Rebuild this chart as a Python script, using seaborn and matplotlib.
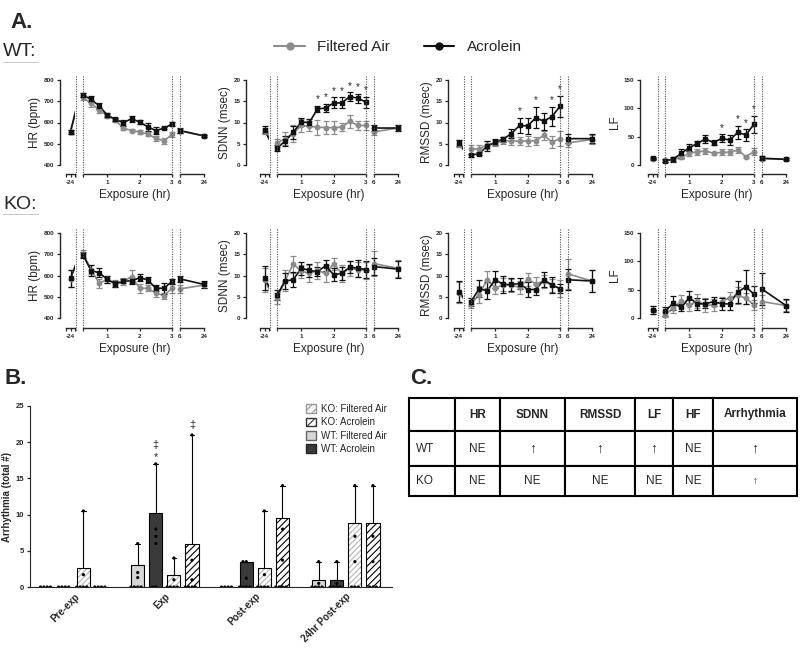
import numpy as np
import pandas as pd
import matplotlib
matplotlib.use('Agg')
import matplotlib.pyplot as plt
from matplotlib.lines import Line2D
from matplotlib.patches import Patch, Rectangle
import seaborn as sns

sns.set_style('ticks')
plt.rcParams['font.family'] = ['Liberation Sans', 'DejaVu Sans']
plt.rcParams['hatch.linewidth'] = 0.8

W, H = 800, 649

# ---------------- panel A data (mean, SEM) ----------------
times = [-24, 0.25, 0.5, 0.75, 1.0, 1.25, 1.5, 1.75, 2.0, 2.25, 2.5, 2.75, 3.0, 6, 24]

hr_wt_ac = [557, 729, 709, 678, 635, 615, 599, 618, 602, 580, 562, 573, 593, 562, 537]
hr_wt_ac_err = [10, 10, 14, 14, 10, 8, 14, 14, 8, 18, 16, 4, 10, 10, 5]
hr_wt_fa = [557, 718, 690, 659, 631, 612, 573, 562, 555, 546, 525, 513, 544, 560, 537]
hr_wt_fa_err = [10, 10, 16, 16, 10, 8, 10, 8, 8, 10, 10, 12, 12, 10, 5]

sdnn_wt_ac = [8.3, 4.0, 5.6, 7.7, 10.1, 10.0, 13.2, 13.4, 14.6, 14.6, 16.1, 15.7, 14.8, 8.7, 8.7]
sdnn_wt_ac_err = [0.8, 0.8, 1.2, 1.5, 1.0, 0.8, 0.8, 1.0, 1.3, 1.3, 1.0, 1.0, 1.3, 0.8, 0.8]
sdnn_wt_fa = [8.0, 5.2, 6.2, 7.4, 9.3, 9.1, 8.9, 8.8, 8.8, 8.9, 10.3, 9.3, 9.3, 7.8, 8.7]
sdnn_wt_fa_err = [0.8, 1.0, 1.5, 2.0, 1.5, 1.2, 1.8, 1.5, 1.5, 1.0, 1.5, 1.0, 1.0, 0.8, 0.8]

rmssd_wt_ac = [5.2, 2.3, 2.7, 4.4, 5.4, 6.1, 7.4, 9.3, 9.2, 11.1, 10.3, 11.4, 13.8, 6.2, 6.2]
rmssd_wt_ac_err = [0.8, 0.3, 0.4, 1.2, 0.8, 0.6, 1.0, 1.8, 1.8, 2.5, 2.0, 2.2, 2.5, 1.0, 1.0]
rmssd_wt_fa = [5.0, 3.7, 3.8, 4.7, 5.2, 5.7, 5.7, 5.6, 5.7, 5.7, 7.0, 5.4, 6.2, 5.2, 6.0]
rmssd_wt_fa_err = [0.8, 1.0, 1.0, 1.0, 0.8, 0.8, 1.0, 1.0, 1.2, 1.0, 1.0, 1.5, 1.8, 1.0, 1.0]

lf_wt_ac = [12, 7.6, 10, 20.6, 30.6, 38, 46, 39.4, 47, 44, 57.6, 53, 72, 12, 10]
lf_wt_ac_err = [2, 3, 4, 8, 6, 5, 7, 4, 7, 9, 12, 10, 15, 4, 2]
lf_wt_fa = [11, 8, 10, 13.5, 20.6, 23.5, 24.7, 20.6, 22.4, 22.4, 26.5, 14.7, 23.5, 11, 10]
lf_wt_fa_err = [2, 2, 3, 3, 4, 5, 6, 3, 5, 5, 6, 2, 6, 3, 2]

hr_ko_ac = [587, 696, 623, 613, 582, 560, 574, 574, 590, 579, 540, 540, 572, 584, 558]
hr_ko_ac_err = [40, 15, 25, 20, 18, 12, 10, 12, 18, 15, 15, 25, 12, 15, 15]
hr_ko_fa = [585, 703, 628, 563, 582, 562, 572, 595, 540, 540, 518, 505, 540, 537, 555]
hr_ko_fa_err = [40, 15, 20, 20, 15, 15, 15, 30, 20, 15, 20, 15, 20, 20, 15]

sdnn_ko_ac = [9.4, 5.4, 8.7, 9.0, 11.7, 11.2, 10.9, 12.3, 10.2, 10.5, 12.0, 11.7, 11.4, 12.1, 11.5]
sdnn_ko_ac_err = [2.8, 1.2, 1.8, 1.8, 1.5, 1.5, 1.0, 1.3, 1.5, 1.5, 1.5, 2.0, 2.0, 2.0, 2.0]
sdnn_ko_fa = [9.0, 4.6, 8.8, 12.7, 11.0, 10.5, 11.2, 10.5, 12.7, 10.5, 11.7, 11.4, 11.2, 12.8, 11.7]
sdnn_ko_fa_err = [2.8, 1.2, 2.5, 2.0, 1.5, 2.0, 2.0, 2.0, 1.5, 2.0, 1.8, 1.8, 2.0, 3.0, 2.0]

rmssd_ko_ac = [6.2, 3.8, 6.9, 6.4, 9.0, 7.9, 7.9, 8.1, 6.7, 6.7, 9.0, 7.8, 6.9, 9.0, 8.7]
rmssd_ko_ac_err = [2.5, 1.0, 2.0, 2.0, 2.0, 2.0, 1.5, 1.3, 1.8, 1.3, 1.8, 1.8, 1.0, 2.5, 2.5]
rmssd_ko_fa = [6.0, 3.3, 5.5, 9.0, 7.1, 7.8, 7.7, 7.2, 9.1, 8.1, 8.6, 7.7, 6.9, 10.4, 8.7]
rmssd_ko_fa_err = [2.5, 1.0, 2.0, 2.0, 1.5, 1.5, 1.5, 1.5, 1.5, 1.5, 1.5, 1.5, 2.0, 3.5, 2.5]

lf_ko_ac = [14.4, 11.5, 26, 19, 36, 25, 25, 29, 25, 25, 46, 55, 42, 51, 22]
lf_ko_ac_err = [7, 8, 12, 6, 12, 10, 8, 8, 10, 10, 20, 30, 15, 28, 12]
lf_ko_fa = [14, 6, 17, 30, 23, 30, 23, 23, 29, 36, 40, 35, 23, 29, 22]
lf_ko_fa_err = [7, 4, 8, 10, 10, 12, 12, 10, 8, 10, 15, 10, 8, 12, 10]

# time points flagged with * (WT acrolein vs filtered air)
sdnn_wt_stars = [1.5, 1.75, 2.0, 2.25, 2.5, 2.75, 3.0]
rmssd_wt_stars = [1.75, 2.25, 2.75, 3.0]
lf_wt_stars = [2.0, 2.5, 2.75, 3.0]

# ---------------- panel B data ----------------
phases = ['Pre-exp', 'Exp', 'Post-exp', '24hr Post-exp']
conds = ['WT: Filtered Air', 'WT: Acrolein', 'KO: Filtered Air', 'KO: Acrolein']
arr_wt_fa = [0, 3.0, 0, 0.9]
arr_wt_ac = [0, 10.2, 3.5, 0.9]
arr_ko_fa = [2.6, 1.7, 2.6, 8.8]
arr_ko_ac = [0, 6.0, 9.5, 8.8]
max_wt_fa = [0, 6, 0, 3.5]
max_wt_ac = [0, 17, 3.5, 3.5]
max_ko_fa = [10.5, 4, 10.5, 14]
max_ko_ac = [0, 21, 14, 14]
pts_wt_fa = [[0, 0, 0, 0], [6, 2, 1.3, 0, 0, 0, 0], [0, 0, 0, 0], [3.5, 0.5, 0, 0, 0, 0]]
pts_wt_ac = [[0, 0, 0, 0], [17, 8, 7, 6, 0, 0], [3.5, 3.5, 1.2, 0, 0, 0, 0], [3.5, 0.5, 0, 0, 0, 0]]
pts_ko_fa = [[10.5, 1.7, 0, 0, 0, 0], [4, 1, 0, 0, 0, 0], [10.5, 1.7, 0, 0, 0, 0], [14, 7, 3.5, 0, 0, 0]]
pts_ko_ac = [[0, 0, 0, 0], [21, 3.7, 1, 0, 0, 0, 0], [14, 8, 3.7, 0, 0, 0, 0], [14, 7, 3.5, 0, 0, 0]]

# ---------------- panel C data ----------------
table_cols = ['', 'HR', 'SDNN', 'RMSSD', 'LF', 'HF', 'Arrhythmia']
table_wt = ['WT', 'NE', '\u2191', '\u2191', '\u2191', 'NE', '\u2191']
table_ko = ['KO', 'NE', 'NE', 'NE', 'NE', 'NE', '\u2191']

FA_COL = '#8c8c8c'
AC_COL = '#111111'

fig = plt.figure(figsize=(8, 6.49), dpi=100)


def px_rect(x0, y0, x1, y1):
    return [x0 / W, 1 - y1 / H, (x1 - x0) / W, (y1 - y0) / H]


def bold_ticks(ax, size):
    for lbl in ax.get_xticklabels() + ax.get_yticklabels():
        lbl.set_fontweight('bold')
        lbl.set_fontsize(size)


def draw_series(ax, xl, mean, err, color, marker):
    ax.plot(times, mean, color=color, lw=1.2, zorder=2)
    sel = [i for i, t in enumerate(times) if xl[0] <= t <= xl[1]]
    eb = ax.errorbar([times[i] for i in sel], [mean[i] for i in sel],
                     yerr=[err[i] for i in sel], fmt=marker, ms=3.2, color=color,
                     ecolor=color, elinewidth=0.9, capsize=2, capthick=0.9, zorder=3)
    arts = [eb.lines[0]] + list(eb.lines[1]) + list(eb.lines[2])
    for art in arts:
        if art is not None:
            art.set_clip_on(False)


def ts_panel(L, yax, top, bot, xaxis, ylim, yticks, ylabel, fa, fa_e, ac, ac_e, stars=()):
    # broken x axis: pre (-24), exposure (0-3 hr), post (6-24 hr)
    segs = [((L - 17, L - 8), (-36, -12), [-36, -24, -12], ['', '-24', '']),
            ((L, L + 89), (0.25, 3.0), [0.25, 1, 2, 3], ['', '1', '2', '3']),
            ((L + 97, L + 121), (6, 24), [6, 24], ['6', '24'])]
    for k, ((x0, x1), xl, ticks, labels) in enumerate(segs):
        ax = fig.add_axes(px_rect(x0, top, x1, bot))
        ax.patch.set_alpha(0)
        ax.set_xlim(xl)
        ax.set_ylim(ylim)
        ax.spines['top'].set_visible(False)
        ax.spines['right'].set_visible(False)
        ax.spines['bottom'].set_position(('outward', (xaxis - bot) * 0.72))
        ax.set_xticks(ticks)
        ax.set_xticklabels(labels)
        if k == 0:
            ax.spines['left'].set_position(('outward', (x0 - yax) * 0.72))
            ax.set_yticks(yticks)
            ax.set_ylabel(ylabel, fontsize=8.5, labelpad=2)
        else:
            ax.spines['left'].set_visible(False)
            ax.set_yticks([])
        for s in ax.spines.values():
            s.set_linewidth(1.0)
        ax.tick_params(length=2.5, width=0.9, pad=1.5)
        bold_ticks(ax, 4.5)
        draw_series(ax, xl, fa, fa_e, FA_COL, 'o')
        draw_series(ax, xl, ac, ac_e, AC_COL, 's')
        if k == 1:
            span = ylim[1] - ylim[0]
            for t in stars:
                i = times.index(t)
                ax.text(t, ac[i] + ac_e[i] + 0.02 * span, '*', ha='center', va='bottom',
                        fontsize=7, clip_on=False)
    for x in [L - 7, L, L + 89, L + 97]:
        fig.add_artist(Line2D([x / W, x / W], [1 - (top - 4) / H, 1 - (xaxis + 3) / H],
                              transform=fig.transFigure, ls=(0, (1, 1.2)), lw=0.8, color='#555555'))
    fig.text((L + 52) / W, 1 - (xaxis + 21) / H, 'Exposure (hr)', ha='center', va='center', fontsize=8.5)


rows = [(80, 165, 174, hr_wt_fa, hr_wt_fa_err, hr_wt_ac, hr_wt_ac_err,
         sdnn_wt_fa, sdnn_wt_fa_err, sdnn_wt_ac, sdnn_wt_ac_err,
         rmssd_wt_fa, rmssd_wt_fa_err, rmssd_wt_ac, rmssd_wt_ac_err,
         lf_wt_fa, lf_wt_fa_err, lf_wt_ac, lf_wt_ac_err, True),
        (233, 318, 328, hr_ko_fa, hr_ko_fa_err, hr_ko_ac, hr_ko_ac_err,
         sdnn_ko_fa, sdnn_ko_fa_err, sdnn_ko_ac, sdnn_ko_ac_err,
         rmssd_ko_fa, rmssd_ko_fa_err, rmssd_ko_ac, rmssd_ko_ac_err,
         lf_ko_fa, lf_ko_fa_err, lf_ko_ac, lf_ko_ac_err, False)]

for r in rows:
    top, bot, xaxis = r[0], r[1], r[2]
    wt = r[-1]
    ts_panel(83, 60, top, bot, xaxis, (400, 800), [400, 500, 600, 700, 800], 'HR (bpm)', *r[3:7])
    ts_panel(277, 246, top, bot, xaxis, (0, 20), [0, 5, 10, 15, 20], 'SDNN (msec)', *r[7:11],
             stars=sdnn_wt_stars if wt else ())
    ts_panel(471, 448, top, bot, xaxis, (0, 20), [0, 5, 10, 15, 20], 'RMSSD (msec)', *r[11:15],
             stars=rmssd_wt_stars if wt else ())
    ts_panel(665, 640, top, bot, xaxis, (0, 150), [0, 50, 100, 150], 'LF', *r[15:19],
             stars=lf_wt_stars if wt else ())

fig.text(10 / W, 1 - 22 / H, 'A.', fontsize=16, fontweight='bold', va='center')
fig.text(3 / W, 1 - 51 / H, 'WT:', fontsize=14, va='center')
fig.text(3 / W, 1 - 204 / H, 'KO:', fontsize=14, va='center')
for yy in [62, 214]:
    fig.add_artist(Line2D([3 / W, 38 / W], [1 - yy / H, 1 - yy / H], transform=fig.transFigure,
                          lw=0.7, color='#c8c8c8'))
leg_handles = [Line2D([], [], color=FA_COL, marker='o', ms=5, lw=1.5),
               Line2D([], [], color=AC_COL, marker='o', ms=5, lw=1.5)]
fig.legend(leg_handles, ['Filtered Air', 'Acrolein'], loc='center',
           bbox_to_anchor=(398 / W, 1 - 47 / H), ncol=2, frameon=False, fontsize=11,
           columnspacing=2.2, handlelength=2.0, handletextpad=0.8)

# ---------------- panel B ----------------
axB = fig.add_axes(px_rect(30, 406, 392, 587))
bar_df = pd.DataFrame({'phase': phases * 4,
                       'cond': np.repeat(conds, 4),
                       'mean': arr_wt_fa + arr_wt_ac + arr_ko_fa + arr_ko_ac,
                       'max': max_wt_fa + max_wt_ac + max_ko_fa + max_ko_ac})
pt_rows = []
for cond, pts in zip(conds, [pts_wt_fa, pts_wt_ac, pts_ko_fa, pts_ko_ac]):
    for ph, vals in zip(phases, pts):
        for v in vals:
            pt_rows.append((ph, cond, v))
pt_df = pd.DataFrame(pt_rows, columns=['phase', 'cond', 'value'])

bar_cols = ['#d6d6d6', '#3a3a3a', '#ffffff', '#ffffff']
sns.barplot(data=bar_df, x='phase', y='mean', hue='cond', order=phases, hue_order=conds,
            palette=bar_cols, width=0.8, gap=0.28, edgecolor='black', linewidth=0.8,
            errorbar=None, legend=False, ax=axB, zorder=2)

for ci, cont in enumerate(axB.containers):
    cond = conds[ci]
    sub = bar_df[bar_df['cond'] == cond].set_index('phase').loc[phases]
    for bar, (ph, row) in zip(cont, sub.iterrows()):
        x = bar.get_x() + bar.get_width() / 2
        w = bar.get_width()
        if ci == 2:
            bar.set_hatch('//////')
            bar.set_edgecolor('#b5b5b5')
            bar.set_linewidth(0)
            axB.add_patch(Rectangle((bar.get_x(), 0), w, bar.get_height(), fill=False,
                                    edgecolor='black', lw=0.8, zorder=2.5))
        elif ci == 3:
            bar.set_hatch('/////')
        if row['max'] > row['mean']:
            axB.plot([x, x], [row['mean'], row['max']], color='black', lw=0.8, zorder=1.5)
            axB.plot([x - w * 0.18, x + w * 0.18], [row['max'], row['max']], color='black', lw=0.8)

sns.swarmplot(data=pt_df, x='phase', y='value', hue='cond', order=phases, hue_order=conds,
              dodge=True, palette=['black'] * 4, size=2.3, legend=False, ax=axB, zorder=4)

exp_wt_ac = axB.containers[1][1]
exp_ko_ac = axB.containers[3][1]
xa = exp_wt_ac.get_x() + exp_wt_ac.get_width() / 2
xb = exp_ko_ac.get_x() + exp_ko_ac.get_width() / 2
axB.text(xa, 19.6, '\u2021', ha='center', va='center', fontsize=8)
axB.text(xa, 18.0, '*', ha='center', va='center', fontsize=8)
axB.text(xb, 22.4, '\u2021', ha='center', va='center', fontsize=8)

axB.set_xlim(-0.49, 3.51)
axB.set_ylim(0, 25)
axB.set_yticks([0, 5, 10, 15, 20, 25])
axB.set_xlabel('')
axB.set_ylabel('Arrhythmia (total #)', fontsize=7, fontweight='bold', labelpad=3)
axB.spines['top'].set_visible(False)
axB.spines['right'].set_visible(False)
axB.tick_params(axis='y', length=2.5, width=0.9, pad=1.5)
axB.tick_params(axis='x', length=0, pad=3)
axB.set_xticks(range(4))
axB.set_xticklabels(phases, rotation=45, ha='right', rotation_mode='anchor')
bold_ticks(axB, 5.5)
for lbl in axB.get_xticklabels():
    lbl.set_fontsize(7)

legB = [Patch(facecolor='#f4f4f4', edgecolor='#9a9a9a', hatch='////'),
        Patch(facecolor='white', edgecolor='#333333', hatch='////'),
        Patch(facecolor='#d6d6d6', edgecolor='#666666'),
        Patch(facecolor='#3a3a3a', edgecolor='#222222')]
axB.legend(legB, ['KO: Filtered Air', 'KO: Acrolein', 'WT: Filtered Air', 'WT: Acrolein'],
           loc='upper right', bbox_to_anchor=(1.01, 1.06), frameon=False, fontsize=7,
           handlelength=1.0, handleheight=1.0, handletextpad=0.5, labelspacing=0.35)
fig.text(4 / W, 1 - 378 / H, 'B.', fontsize=16, fontweight='bold', va='center')

# ---------------- panel C ----------------
fig.text(410 / W, 1 - 378 / H, 'C.', fontsize=16, fontweight='bold', va='center')
axC = fig.add_axes(px_rect(409, 398, 797, 496))
axC.axis('off')
col_w = [46, 45, 65, 70, 38, 40, 84]
tbl = axC.table(cellText=[table_cols, table_wt, table_ko], cellLoc='center',
                colWidths=[w / sum(col_w) for w in col_w], bbox=[0, 0, 1, 1])
tbl.auto_set_font_size(False)
row_h = [33, 35, 30]
for (r, c), cell in tbl.get_celld().items():
    cell.set_linewidth(1.5)
    cell.set_height(row_h[r] / sum(row_h))
    txt = cell.get_text()
    txt.set_fontsize(8.5)
    if r == 0:
        txt.set_fontweight('bold')
    if c == 0:
        cell.set_text_props(ha='left')
        cell.PAD = 0.15
    if txt.get_text() == '\u2191':
        txt.set_fontsize(10 if r == 1 else 7)

fig.savefig('out.png', dpi=100)
